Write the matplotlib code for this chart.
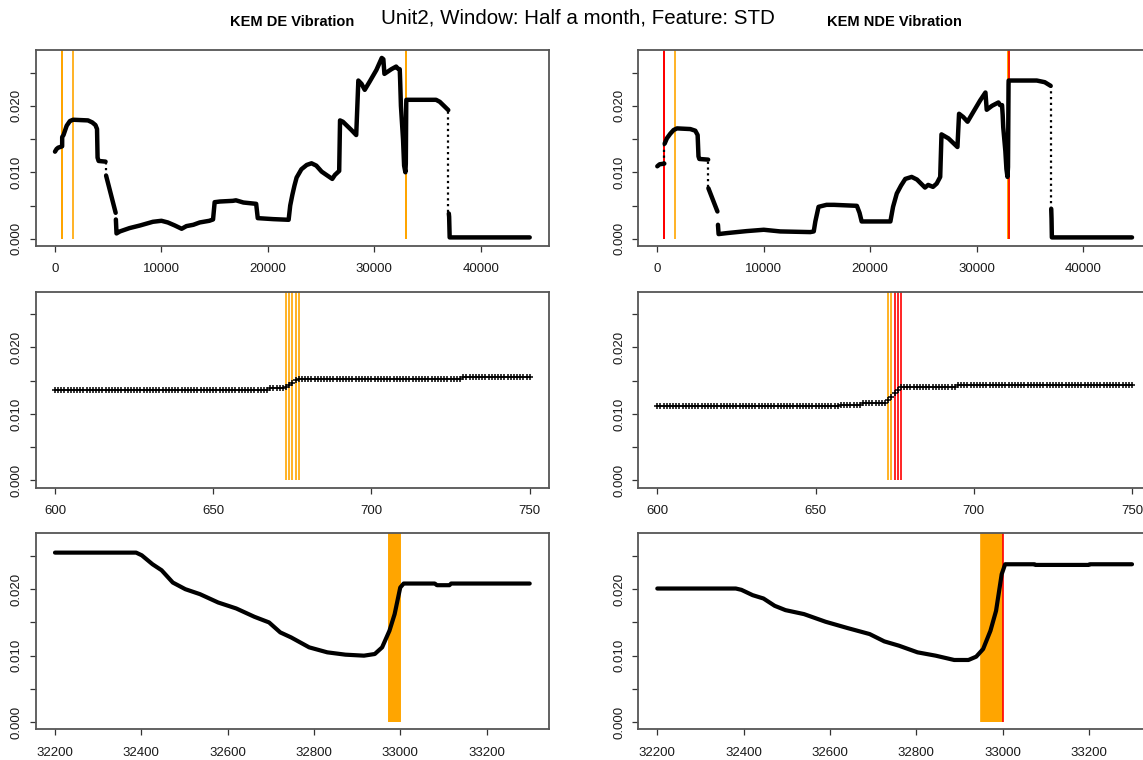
import matplotlib
matplotlib.use('Agg')
import matplotlib.pyplot as plt
import numpy as np

plt.rcParams['font.family'] = ['Liberation Sans', 'DejaVu Sans']

main_title = 'Unit2, Window: Half a month, Feature: STD'
col_titles = ['KEM DE Vibration', 'KEM NDE Vibration']

# full series, knots (nan = break, drawn as sparse drop)
de_x = [0, 150, 300, 672, 677, 800, 1100, 1400, 1700, 3100, 3500, 3800, 3950, 4000, 4100, 4750,
        np.nan, 4800, 5700, np.nan, 5720, 5780, 6100, 7000, 8000, 9200, 10000, 10600, 11250, 11900,
        12350, 13000, 13600, 14500, 14850, 15000, 15500, 16700, 17000, 17700, 18900, 19050, 20500,
        21950, 22100, 22300, 22500, 22700, 23150, 23650, 24100, 24550, 25050, 25500, 26050, 26300,
        26700, 26780, 27050, 27850, 28300, 28500, 28800, 29100, 29550, 30200, 30700, 30850, 30950,
        31600, 32050, 32200, 32390, 32430, 32500, 32700, 32800, 32920, 32960, 33000, 33010, 35800,
        36150, 36600, 36950, np.nan, 37000, 37030, 37080, 44600]
de_y = [0.0131, 0.0135, 0.0137, 0.0139, 0.0153, 0.0156, 0.0170, 0.0177, 0.0179, 0.0178, 0.0175,
        0.0171, 0.0165, 0.0122, 0.0117, 0.0116, np.nan, 0.0095, 0.0039, np.nan, 0.0029, 0.0008,
        0.0011, 0.0016, 0.0020, 0.00255, 0.0027, 0.00245, 0.0020, 0.0015, 0.0019, 0.0021, 0.00245,
        0.0027, 0.0029, 0.0055, 0.0056, 0.0057, 0.00578, 0.00545, 0.00525, 0.0031, 0.00295, 0.00285,
        0.0050, 0.0066, 0.0080, 0.0092, 0.01045, 0.0111, 0.01135, 0.0110, 0.0101, 0.0096, 0.0090,
        0.0096, 0.0102, 0.0178, 0.0176, 0.01635, 0.0156, 0.0238, 0.0233, 0.0224, 0.0236, 0.0254,
        0.0272, 0.0270, 0.0248, 0.0255, 0.0259, 0.0256, 0.0255, 0.0237, 0.0200, 0.0149, 0.0110,
        0.0100, 0.0113, 0.0203, 0.0209, 0.0209, 0.0206, 0.0199, 0.01935, np.nan, 0.0038, 0.0033,
        0.0002, 0.0002]
de_drops_x = [4780, 36965]
de_drops_top = [0.0116, 0.0192]
de_drops_bot = [0.0095, 0.0040]

nde_x = [0, 220, 660, np.nan, 690, 900, 1220, 1530, 1850, 3100, 3570, 3790, 3870, 3950, 4780,
         np.nan, 4800, 5650, np.nan, 5700, 5760, 6540, 8400, 10000, 11550, 14370, 14700, 14850,
         15150, 15900, 16600, 18750, 19000, 19200, 21900, 22150, 22500, 22900, 23300, 23900, 24400,
         25150, 25450, 25900, 26250, 26580, 26700, 27350, 28200, 28350, 28750, 29150, 29700, 30330,
         30830, 30950, 31450, 32050, 32200, 32390, 32450, 32500, 32700, 32800, 32900, 32950, 33000,
         33010, 35650, 36400, 36960, np.nan, 37010, 37040, 37070, 44600]
nde_y = [0.0109, 0.0112, 0.0113, np.nan, 0.0143, 0.0151, 0.0158, 0.01635, 0.0166, 0.0165, 0.01625,
         0.0156, 0.0124, 0.0120, 0.0119, np.nan, 0.0076, 0.0041, np.nan, 0.0021, 0.0007, 0.00085,
         0.00115, 0.00135, 0.0011, 0.0010, 0.0011, 0.0026, 0.0048, 0.0051, 0.0051, 0.00495, 0.0039,
         0.0026, 0.0026, 0.0048, 0.0068, 0.0080, 0.0090, 0.0093, 0.0089, 0.0077, 0.0081, 0.0078,
         0.0083, 0.0093, 0.0157, 0.0151, 0.0138, 0.0188, 0.0183, 0.0176, 0.0191, 0.0208, 0.0220,
         0.0194, 0.0200, 0.0205, 0.0201, 0.0201, 0.0186, 0.0168, 0.0132, 0.0105, 0.0093, 0.0108,
         0.0232, 0.0238, 0.0238, 0.02355, 0.0230, np.nan, 0.0045, 0.0030, 0.0002, 0.0002]
nde_drops_x = [675, 4790, 36985]
nde_drops_top = [0.0113, 0.0119, 0.0230]
nde_drops_bot = [0.0143, 0.0078, 0.0045]

# zoom 600..750, one value per index (levels and run lengths)
mid_x = np.arange(600, 751)
de_mid_levels = [0.01362, 0.01387, 0.0140, 0.0143, 0.0147, 0.0151, 0.01533, 0.01553]
de_mid_counts = [68, 5, 1, 1, 1, 1, 52, 22]
nde_mid_levels = [0.01121, 0.01141, 0.01168, 0.0121, 0.0126, 0.0131, 0.0136, 0.01412, 0.01432]
nde_mid_counts = [58, 7, 8, 1, 1, 1, 1, 18, 56]

# zoom 32200..33300
de_bot_x = [32200, 32388, 32401, 32426, 32447, 32473, 32502, 32536, 32578, 32620, 32662, 32696,
            32722, 32747, 32789, 32831, 32873, 32916, 32941, 32958, 32975, 32987, 33000, 33008,
            33080, 33085, 33114, 33118, 33300]
de_bot_y = [0.0255, 0.0255, 0.0251, 0.02375, 0.02285, 0.0210, 0.0200, 0.01925, 0.0180, 0.0171,
            0.01585, 0.0150, 0.0135, 0.01275, 0.01125, 0.0105, 0.01015, 0.0100, 0.01025, 0.01125,
            0.01375, 0.01625, 0.02025, 0.02085, 0.02085, 0.0206, 0.0206, 0.02085, 0.02085]
nde_bot_x = [32200, 32382, 32395, 32421, 32446, 32472, 32497, 32540, 32590, 32641, 32692, 32726,
             32760, 32803, 32845, 32888, 32921, 32939, 32955, 32972, 32985, 32998, 33006, 33074,
             33076, 33200, 33202, 33300]
nde_bot_y = [0.0201, 0.0201, 0.0199, 0.0191, 0.0186, 0.0175, 0.01685, 0.01625, 0.0151, 0.01415,
             0.01325, 0.01215, 0.0115, 0.0105, 0.0100, 0.00935, 0.00935, 0.00985, 0.0110, 0.01375,
             0.01675, 0.02225, 0.02375, 0.02375, 0.02365, 0.02365, 0.02375, 0.02375]

# flagged indices
de_orange = [673, 674, 675, 676, 677, 1675] + list(range(32974, 33001))
de_red = []
nde_orange = [673, 674, 1675] + list(range(32951, 33000))
nde_red = [675, 676, 677, 33000]

top_ticks = [0, 10000, 20000, 30000, 40000]
mid_ticks = [600, 650, 700, 750]
bot_ticks = [32200, 32400, 32600, 32800, 33000, 33200]
y_ticks = [0, 0.005, 0.010, 0.015, 0.020, 0.025]
y_labels = ['0.000', '', '0.010', '', '0.020', '']

W, H = 1143, 760
fig = plt.figure(figsize=(W / 100, H / 100), dpi=100)

col_left = [36, 638.3]
box_w = 512.7
row_top = [50, 291.7, 533.4]
box_h = 196


def r_lim(lo, hi):
    d = (hi - lo) * 0.04
    return lo - d, hi + d


def style(ax, xticks, xlim):
    ax.set_xlim(*r_lim(*xlim))
    ax.set_ylim(*r_lim(0, 0.0273))
    ax.set_xticks(xticks)
    ax.set_xticklabels([str(t) for t in xticks])
    ax.set_yticks(y_ticks)
    ax.set_yticklabels(y_labels, rotation=90, va='center')
    ax.tick_params(direction='out', length=4.5, width=0.9, color='#333333',
                   labelsize=9.5, labelcolor='#1a1a1a')
    ax.tick_params(axis='x', pad=8)
    ax.tick_params(axis='y', pad=5)
    for s in ax.spines.values():
        s.set_color('#555555')
        s.set_linewidth(1.3)


def flags(ax, orange, red):
    ax.vlines(orange, 0, 0.04, colors='#FFA500', lw=1.2, zorder=1)
    if red:
        ax.vlines(red, 0, 0.04, colors='#FF0000', lw=1.2, zorder=1.5)


series = [
    (de_x, de_y, de_drops_x, de_drops_top, de_drops_bot, de_mid_levels, de_mid_counts,
     de_bot_x, de_bot_y, de_orange, de_red),
    (nde_x, nde_y, nde_drops_x, nde_drops_top, nde_drops_bot, nde_mid_levels, nde_mid_counts,
     nde_bot_x, nde_bot_y, nde_orange, nde_red),
]

for c, (sx, sy, dx, dt, db, ml, mc, bx, by, orng, red) in enumerate(series):
    axes = []
    for r in range(3):
        ax = fig.add_axes([col_left[c] / W, (H - row_top[r] - box_h) / H, box_w / W, box_h / H])
        axes.append(ax)

    # full series
    ax = axes[0]
    flags(ax, orng, red)
    ax.plot(sx, sy, color='black', lw=3.2, solid_joinstyle='round', solid_capstyle='round', zorder=3)
    ax.vlines(dx, db, dt, colors='black', lw=1.6, linestyles=(0, (1, 1.6)), zorder=3)
    style(ax, top_ticks, (0, 44600))

    # around 600..750
    ax = axes[1]
    flags(ax, orng, red)
    ax.plot(mid_x, np.repeat(ml, mc), ls='none', marker='+', ms=4.5, mew=1.1, color='black', zorder=3)
    style(ax, mid_ticks, (600, 750))

    # around 33000
    ax = axes[2]
    flags(ax, orng, red)
    ax.plot(bx, by, color='black', lw=3, solid_joinstyle='round', solid_capstyle='round', zorder=3)
    style(ax, bot_ticks, (32200, 33300))

fig.text(578 / W, 1 - 18 / H, main_title, ha='center', va='center', fontsize=14.8)
fig.text(292 / W, 1 - 22 / H, col_titles[0], ha='center', va='center', fontsize=10.5, fontweight='bold')
fig.text(894.5 / W, 1 - 22 / H, col_titles[1], ha='center', va='center', fontsize=10.5, fontweight='bold')

fig.savefig('out.png', dpi=100)
